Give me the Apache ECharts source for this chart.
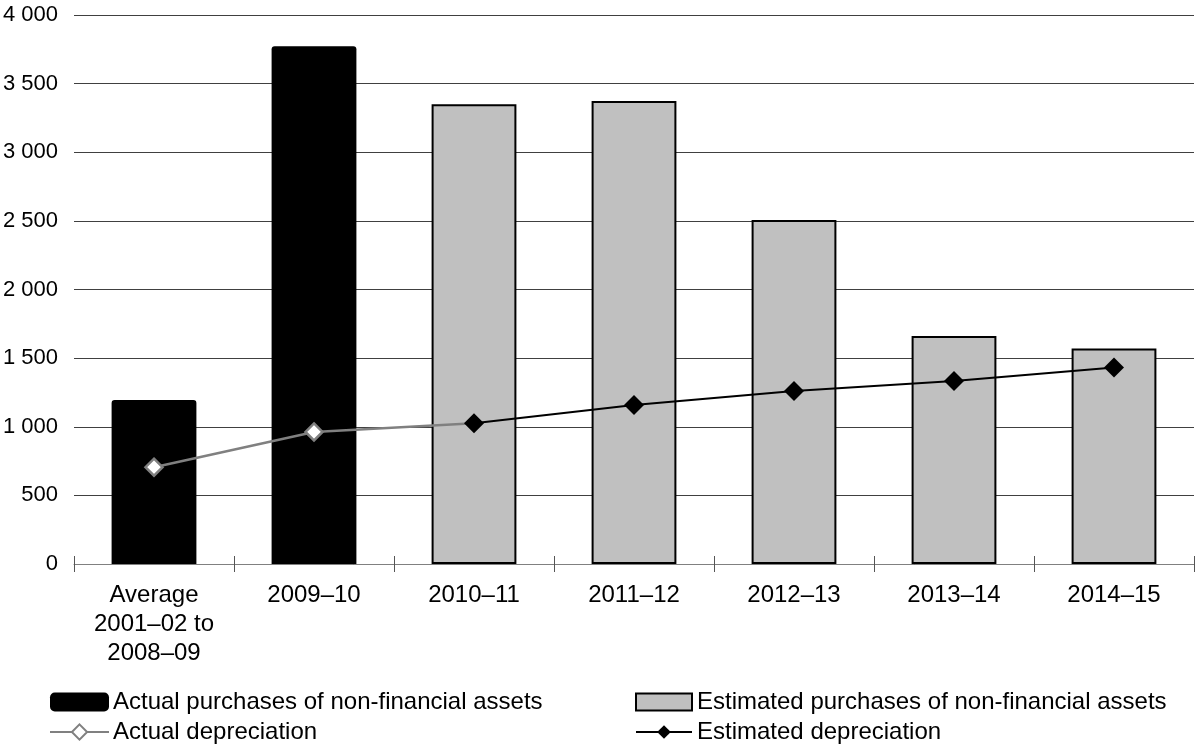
<!DOCTYPE html>
<html>
<head>
<meta charset="utf-8">
<script src="https://cdn.jsdelivr.net/npm/echarts@6/dist/echarts.min.js"></script>
<style>
html,body{margin:0;padding:0;background:#fff;}
#chart{width:1196px;height:747px;}
</style>
</head>
<body>
<div id="chart"></div>
<script>
const categories = ['Average\n2001–02 to\n2008–09', '2009–10', '2010–11', '2011–12', '2012–13', '2013–14', '2014–15'];
const actualPurchases = [1195, 3772, '-', '-', '-', '-', '-'];
const estimatedPurchases = ['-', '-', 3350, 3374, 2507, 1662, 1571];
const actualDepreciation = [705, 962, 1025, '-', '-', '-', '-'];
const estimatedDepreciation = ['-', '-', 1025, 1158, 1260, 1333, 1431];
const yTicks = [0, 500, 1000, 1500, 2000, 2500, 3000, 3500, 4000];

const FONT = 'Liberation Sans, Arial, sans-serif';

const chart = echarts.init(document.getElementById('chart'));
chart.setOption({
  animation: false,
  backgroundColor: '#fff',
  textStyle: { fontFamily: FONT },
  grid: { left: 74, right: 2, top: 15, bottom: 183, containLabel: false, outerBoundsMode: 'none' },
  legend: [
    {
      left: 49, top: 687, orient: 'vertical', itemGap: 0, padding: 0,
      itemWidth: 59, itemHeight: 19,
      textStyle: { fontSize: 24, lineHeight: 30, color: '#000', fontFamily: FONT, padding: [0, 0, 0, -1] },
      data: [
        { name: 'Actual purchases of non-financial assets', icon: 'roundRect' },
        { name: 'Actual depreciation' }
      ]
    },
    {
      left: 635, top: 687, orient: 'vertical', itemGap: 0, padding: 0,
      itemWidth: 56, itemHeight: 17,
      textStyle: { fontSize: 24, lineHeight: 30, color: '#000', fontFamily: FONT, padding: [0, 0, 0, 0] },
      data: [
        { name: 'Estimated purchases of non-financial assets', icon: 'rect' },
        { name: 'Estimated depreciation' }
      ]
    }
  ],
  xAxis: [
    {
      type: 'category', data: categories,
      axisLine: { lineStyle: { color: '#808080', width: 1 } },
      axisTick: { show: true, length: 8, lineStyle: { color: '#555' } },
      axisLabel: { fontSize: 24, color: '#000', lineHeight: 29, margin: 17, interval: 0 },
      splitLine: { show: false }
    },
    {
      type: 'category', data: categories, position: 'bottom',
      axisLine: { show: false },
      axisTick: { show: true, inside: true, length: 8, lineStyle: { color: '#555' } },
      axisLabel: { show: false },
      splitLine: { show: false }
    }
  ],
  yAxis: {
    type: 'value', min: 0, max: 4000, interval: 500,
    axisLine: { show: false }, axisTick: { show: false },
    axisLabel: {
      fontSize: 22, color: '#000', margin: 16,
      formatter: v => yTicks.includes(v) ? String(v).replace(/\B(?=(\d{3})+(?!\d))/g, ' ') : ''
    },
    splitLine: { lineStyle: { color: '#404040', width: 1 } }
  },
  series: [
    {
      name: 'Actual purchases of non-financial assets', type: 'bar', stack: 'p',
      data: actualPurchases, barWidth: '53%',
      itemStyle: { color: '#000', borderRadius: [3, 3, 0, 0] }
    },
    {
      name: 'Estimated purchases of non-financial assets', type: 'bar', stack: 'p',
      data: estimatedPurchases, barWidth: '53%',
      itemStyle: { color: '#c0c0c0', borderColor: '#000', borderWidth: 2 }
    },
    {
      name: 'Actual depreciation', type: 'line',
      data: actualDepreciation.map((v, i) => i === 2 ? { value: v, symbol: 'none' } : v),
      symbol: 'diamond', symbolSize: 17,
      lineStyle: { color: '#808080', width: 2.5 },
      itemStyle: { color: '#fff', borderColor: '#808080', borderWidth: 2.5 },
      z: 3
    },
    {
      name: 'Estimated depreciation', type: 'line',
      data: estimatedDepreciation,
      symbol: 'diamond', symbolSize: 20,
      lineStyle: { color: '#000', width: 2 },
      itemStyle: { color: '#000' },
      z: 4
    }
  ]
});
</script>
</body>
</html>
